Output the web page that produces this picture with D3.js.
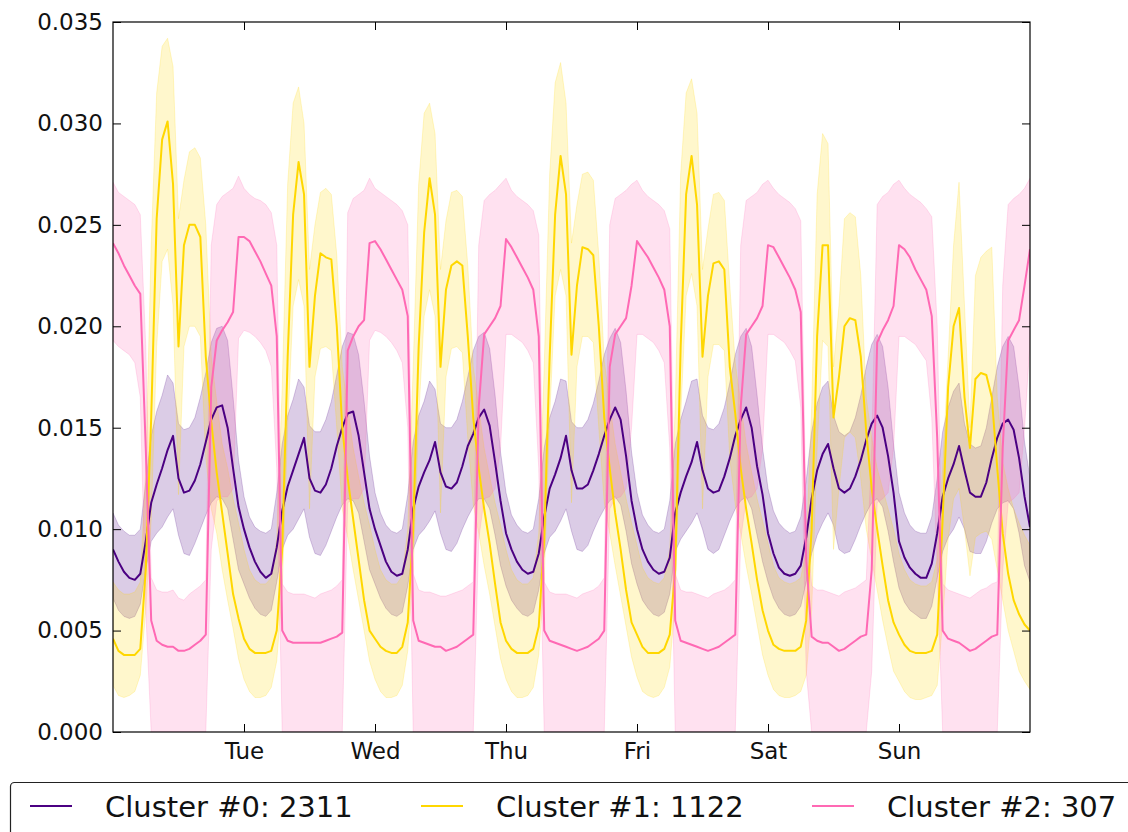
<!DOCTYPE html>
<meta charset="utf-8">
<style>
  body { margin: 0; background: #fff; }
  svg { display: block; font-family: "DejaVu Sans", sans-serif; }
</style>
<div id="chart"></div>

<!-- Load d3.js -->
<script src="https://d3js.org/d3.v7.min.js"></script>
<script>
// hourly profile, Monday 00:00 -> next Monday 00:00 (169 points), values in 1e-3 units
const purpleMean = [
  9.0, 8.4, 7.9, 7.6, 7.5, 7.8, 9.4, 11.3, 12.2, 13.0, 13.9, 14.6, 12.5, 11.8, 11.9, 12.4, 13.2, 14.3, 15.4, 16.0, 16.1, 15.0, 13.0, 11.1,
  10.0, 9.1, 8.4, 7.9, 7.6, 7.8, 9.1, 10.9, 12.1, 12.9, 13.7, 14.5, 12.5, 11.9, 11.8, 12.2, 13.0, 14.1, 15.0, 15.7, 15.8, 14.6, 12.8, 11.0,
  10.0, 9.2, 8.4, 7.9, 7.7, 7.8, 9.0, 11.0, 12.1, 12.8, 13.4, 14.3, 12.8, 12.1, 12.0, 12.3, 13.1, 14.1, 14.7, 15.5, 15.9, 15.1, 13.3, 11.4,
  9.8, 9.0, 8.4, 8.0, 7.8, 7.9, 8.8, 10.6, 12.0, 12.7, 13.5, 14.6, 12.9, 12.0, 12.0, 12.2, 12.9, 13.7, 14.6, 15.4, 16.0, 15.4, 13.6, 11.4,
  10.0, 9.0, 8.4, 8.0, 7.8, 7.9, 8.6, 10.8, 11.8, 12.6, 13.3, 14.3, 12.9, 12.0, 11.8, 11.9, 12.6, 13.5, 14.6, 15.4, 16.0, 15.0, 13.1, 11.7,
  9.8, 8.8, 8.1, 7.8, 7.7, 7.8, 8.2, 9.6, 11.5, 12.9, 13.7, 14.2, 13.0, 12.0, 11.8, 12.0, 12.6, 13.4, 14.4, 15.2, 15.6, 15.0, 13.6, 11.8,
  9.4, 8.6, 8.1, 7.8, 7.6, 7.6, 8.3, 9.8, 11.6, 12.5, 13.2, 14.1, 12.9, 11.8, 11.6, 11.6, 12.3, 13.5, 14.5, 15.2, 15.4, 14.9, 13.5, 11.6,
  10.1];
const purpleHigh = [
  10.8, 10.2, 9.9, 9.7, 9.7, 10.0, 12.3, 14.6, 15.8, 16.6, 17.6, 17.2, 15.2, 14.9, 15.0, 15.5, 16.5, 17.7, 19.2, 19.9, 20.0, 19.3, 16.5, 13.4,
  11.6, 10.6, 10.1, 9.9, 9.8, 10.0, 11.8, 14.2, 15.6, 16.4, 17.4, 17.0, 15.1, 14.8, 14.8, 15.4, 16.3, 17.6, 19.0, 19.7, 19.6, 18.6, 16.3, 13.6,
  11.8, 10.8, 10.2, 9.9, 9.8, 10.0, 11.7, 14.3, 15.6, 16.3, 17.3, 16.9, 15.2, 15.0, 15.0, 15.4, 16.3, 17.5, 18.8, 19.5, 19.7, 18.9, 16.6, 13.8,
  11.8, 10.7, 10.2, 9.9, 9.8, 10.0, 11.5, 14.0, 15.5, 16.3, 17.4, 17.3, 15.3, 15.0, 15.0, 15.4, 16.2, 17.3, 18.6, 19.4, 19.9, 19.2, 16.8, 13.8,
  11.8, 10.7, 10.2, 9.9, 9.8, 10.0, 11.4, 14.2, 15.4, 16.3, 17.3, 17.4, 15.6, 15.0, 14.9, 15.2, 16.0, 17.2, 18.6, 19.5, 19.9, 19.0, 16.6, 14.0,
  12.0, 10.9, 10.3, 10.0, 9.8, 9.9, 10.6, 12.4, 14.8, 16.2, 17.0, 17.3, 15.6, 14.8, 14.6, 14.8, 15.5, 16.6, 18.0, 19.1, 19.6, 19.0, 17.0, 14.2,
  11.8, 10.8, 10.2, 9.9, 9.8, 9.8, 10.6, 12.5, 14.8, 16.0, 16.8, 17.2, 15.2, 14.2, 14.0, 14.1, 15.0, 16.5, 18.0, 19.0, 19.5, 19.0, 17.0, 14.3,
  12.5];
const purpleLow = [
  6.6, 6.0, 5.7, 5.6, 5.7, 6.3, 8.0, 9.4, 9.8, 10.1, 10.6, 11.0, 9.7, 8.8, 8.7, 9.3, 10.0, 10.7, 11.3, 11.6, 11.5, 11.0, 9.5, 8.0,
  7.3, 6.6, 6.1, 5.8, 5.7, 6.0, 7.4, 9.0, 9.7, 10.0, 10.5, 11.0, 9.6, 8.8, 8.7, 9.2, 9.9, 10.6, 11.2, 11.5, 11.4, 10.8, 9.4, 8.0,
  7.3, 6.6, 6.1, 5.8, 5.7, 5.9, 7.2, 9.0, 9.7, 10.0, 10.4, 10.9, 9.8, 9.0, 8.9, 9.3, 10.0, 10.6, 11.1, 11.5, 11.5, 11.0, 9.7, 8.2,
  7.2, 6.5, 6.1, 5.8, 5.7, 5.9, 7.0, 8.8, 9.6, 9.9, 10.4, 11.0, 9.9, 9.0, 8.9, 9.2, 9.9, 10.5, 11.0, 11.4, 11.6, 11.2, 9.9, 8.3,
  7.3, 6.5, 6.1, 5.8, 5.7, 5.9, 6.8, 8.9, 9.5, 9.9, 10.3, 10.8, 10.0, 9.0, 8.8, 9.0, 9.7, 10.4, 11.0, 11.4, 11.6, 11.0, 9.7, 8.4,
  7.4, 6.6, 6.1, 5.8, 5.7, 5.8, 6.2, 7.4, 8.8, 9.7, 10.3, 10.8, 10.2, 9.0, 8.8, 8.9, 9.5, 10.2, 10.8, 11.3, 11.5, 11.1, 9.9, 8.4,
  7.1, 6.4, 6.0, 5.8, 5.6, 5.6, 6.2, 7.6, 8.9, 9.6, 10.0, 10.6, 10.0, 8.9, 8.8, 8.8, 9.4, 10.3, 11.0, 11.3, 11.4, 11.0, 9.8, 8.2,
  7.4];

const yellowMean = [
  4.6, 4.0, 3.8, 3.8, 3.8, 4.1, 8.0, 15.5, 25.3, 29.2, 30.1, 27.0, 19.0, 24.0, 25.0, 25.0, 24.4, 18.5, 15.3, 12.8, 10.8, 8.8, 6.8, 5.6,
  4.6, 4.1, 3.9, 3.9, 3.9, 4.0, 5.0, 9.0, 18.5, 25.5, 28.1, 26.5, 18.0, 21.5, 23.6, 23.4, 23.3, 20.0, 15.0, 12.5, 10.5, 8.5, 6.5, 5.0,
  4.6, 4.2, 4.0, 3.9, 3.9, 4.2, 5.4, 10.0, 19.0, 24.6, 27.3, 25.5, 18.0, 21.8, 23.0, 23.2, 23.0, 19.5, 15.5, 13.0, 11.0, 9.3, 7.3, 5.4,
  4.5, 4.1, 3.9, 3.9, 3.9, 4.1, 5.2, 9.5, 18.5, 25.5, 28.4, 26.5, 18.6, 22.0, 23.9, 23.8, 23.5, 20.0, 15.5, 13.0, 10.8, 9.0, 7.0, 5.4,
  4.8, 4.2, 3.9, 3.9, 3.9, 4.1, 4.8, 8.0, 19.0, 26.5, 28.4, 26.0, 18.5, 21.5, 23.1, 23.2, 22.8, 18.0, 15.7, 13.0, 11.0, 9.3, 7.5, 6.0,
  5.0, 4.3, 4.1, 4.0, 4.0, 4.0, 4.2, 5.5, 10.0, 19.5, 24.0, 24.0, 15.5, 17.5, 20.0, 20.4, 20.3, 18.5, 14.8, 12.0, 10.0, 8.2, 6.5, 5.4,
  4.8, 4.3, 4.0, 3.9, 3.9, 3.9, 4.0, 4.8, 10.5, 17.0, 20.0, 20.9, 16.5, 14.0, 17.4, 17.7, 17.6, 16.5, 13.0, 9.8, 7.8, 6.5, 5.8, 5.3,
  5.0];
const yellowHigh = [
  7.4, 7.0, 6.8, 6.8, 6.9, 7.4, 13.0, 24.0, 31.5, 33.8, 34.2, 32.8, 25.3, 27.2, 28.6, 28.8, 28.3, 25.0, 18.5, 16.3, 14.2, 13.0, 11.5, 10.3,
  9.0, 8.0, 7.5, 7.3, 7.3, 7.6, 9.5, 17.0, 27.0, 31.0, 31.8, 30.0, 22.8, 25.0, 26.6, 26.8, 26.5, 23.5, 18.0, 16.0, 14.0, 12.6, 11.3, 10.2,
  9.0, 8.0, 7.5, 7.3, 7.3, 7.7, 10.0, 18.0, 27.0, 30.5, 31.0, 29.5, 22.8, 25.2, 26.6, 26.7, 26.4, 23.0, 18.0, 16.0, 14.0, 12.6, 11.3, 10.2,
  9.0, 8.0, 7.5, 7.3, 7.3, 7.6, 9.8, 18.0, 27.5, 32.0, 33.0, 31.0, 24.1, 26.0, 27.5, 27.6, 27.2, 23.5, 18.3, 16.2, 14.2, 12.8, 11.5, 10.3,
  9.2, 8.1, 7.6, 7.4, 7.3, 7.6, 9.0, 16.0, 27.5, 31.5, 32.2, 30.5, 22.8, 24.8, 26.5, 26.6, 26.2, 22.0, 18.2, 16.2, 14.2, 12.8, 11.5, 10.4,
  9.3, 8.2, 7.6, 7.4, 7.3, 7.4, 7.6, 9.0, 16.0, 26.5, 29.5, 29.0, 18.0, 21.0, 25.3, 25.6, 25.4, 22.5, 16.5, 14.5, 13.0, 12.0, 11.0, 10.0,
  8.8, 8.0, 7.5, 7.3, 7.2, 7.2, 7.4, 8.5, 13.0, 18.5, 24.0, 27.1, 21.0, 15.0, 22.5, 23.4, 23.7, 23.9, 16.5, 13.3, 12.0, 11.0, 10.3, 9.7,
  9.2];
const yellowLow = [
  2.3, 1.8, 1.7, 1.8, 2.0, 2.8, 6.0, 10.5, 19.0, 23.2, 23.8, 21.0, 11.7, 19.0, 20.0, 20.0, 19.5, 13.5, 11.0, 9.8, 8.0, 6.5, 5.1, 3.6,
  2.6, 2.0, 1.7, 1.7, 1.8, 2.2, 3.5, 7.0, 15.0, 21.0, 22.3, 21.0, 11.0, 17.5, 18.9, 19.0, 18.8, 15.0, 11.0, 9.6, 8.0, 6.5, 5.0, 3.5,
  2.6, 2.0, 1.7, 1.7, 1.8, 2.3, 4.0, 8.0, 15.5, 20.5, 21.8, 20.5, 10.8, 17.5, 18.9, 19.0, 18.7, 14.5, 11.2, 9.8, 8.2, 6.8, 5.2, 3.6,
  2.6, 2.0, 1.7, 1.7, 1.8, 2.2, 3.8, 7.5, 15.5, 21.5, 22.8, 21.5, 11.3, 18.0, 19.5, 19.5, 19.2, 15.0, 11.3, 9.8, 8.2, 6.7, 5.2, 3.7,
  2.7, 2.0, 1.8, 1.7, 1.8, 2.2, 3.2, 6.5, 15.5, 21.5, 22.6, 21.0, 11.0, 17.5, 19.1, 19.1, 18.8, 13.5, 11.2, 9.8, 8.2, 6.8, 5.3, 3.8,
  2.8, 2.1, 1.8, 1.7, 1.7, 1.8, 2.0, 2.8, 6.0, 14.0, 19.3, 19.0, 9.0, 12.0, 14.5, 14.8, 14.5, 12.5, 10.0, 8.5, 7.0, 5.5, 4.2, 3.0,
  2.5, 2.0, 1.7, 1.6, 1.6, 1.7, 1.8, 2.3, 5.5, 9.5, 11.5, 12.0, 10.0, 7.7, 9.6, 9.8, 9.9, 9.5, 8.0, 6.5, 5.0, 4.0, 3.0, 2.5,
  2.1];

const pinkMean = [
  24.1, 23.6, 23.0, 22.5, 22.0, 21.6, 14.0, 5.5, 4.5, 4.3, 4.2, 4.2, 4.0, 4.0, 4.1, 4.3, 4.5, 4.8, 17.0, 19.3, 19.8, 20.2, 20.7, 24.4,
  24.4, 24.2, 23.7, 23.2, 22.6, 22.0, 19.5, 5.0, 4.5, 4.4, 4.4, 4.4, 4.4, 4.4, 4.4, 4.5, 4.6, 4.7, 4.9, 18.8, 19.5, 20.0, 20.3, 24.1,
  24.2, 23.8, 23.3, 22.8, 22.3, 21.8, 20.5, 5.5, 4.5, 4.4, 4.3, 4.2, 4.2, 4.0, 4.1, 4.2, 4.4, 4.6, 4.8, 16.0, 19.6, 20.0, 20.4, 21.0,
  24.3, 23.9, 23.4, 22.9, 22.4, 21.8, 19.5, 5.0, 4.5, 4.4, 4.3, 4.2, 4.1, 4.0, 4.1, 4.2, 4.4, 4.6, 5.0, 18.0, 19.6, 20.0, 20.4, 22.0,
  24.2, 23.8, 23.4, 22.9, 22.4, 21.8, 20.0, 5.5, 4.5, 4.4, 4.3, 4.2, 4.1, 4.0, 4.1, 4.2, 4.4, 4.6, 4.8, 16.0, 19.6, 20.0, 20.4, 21.0,
  24.0, 23.9, 23.4, 22.9, 22.4, 21.8, 20.7, 8.5, 4.7, 4.5, 4.4, 4.4, 4.2, 4.0, 4.1, 4.3, 4.5, 4.7, 4.8, 8.0, 19.2, 19.8, 20.3, 21.0,
  24.0, 23.8, 23.4, 22.8, 22.3, 21.8, 20.5, 14.5, 5.0, 4.6, 4.5, 4.4, 4.2, 4.0, 4.1, 4.3, 4.5, 4.7, 4.8, 14.0, 19.3, 19.8, 20.3, 22.0,
  23.8];
const pinkHigh = [
  27.1, 26.6, 26.4, 26.2, 26.0, 25.5, 19.0, 7.6, 7.0, 6.9, 6.9, 7.0, 6.6, 6.5, 6.8, 7.0, 7.2, 7.5, 24.0, 26.0, 26.4, 26.6, 26.8, 27.4,
  26.8, 26.5, 26.3, 26.2, 26.0, 25.6, 24.0, 7.3, 6.9, 6.8, 6.8, 6.8, 6.7, 6.6, 6.8, 6.9, 7.0, 7.2, 7.5, 25.6, 26.3, 26.5, 26.7, 27.3,
  26.8, 26.6, 26.4, 26.2, 26.0, 25.7, 25.0, 7.8, 7.0, 6.9, 6.9, 6.8, 6.7, 6.7, 6.8, 6.9, 7.0, 7.2, 7.4, 24.0, 26.2, 26.5, 26.7, 27.0,
  27.3, 26.7, 26.4, 26.2, 26.0, 25.7, 24.5, 7.4, 6.9, 6.8, 6.8, 6.8, 6.7, 6.6, 6.8, 6.9, 7.0, 7.2, 7.6, 25.0, 26.3, 26.5, 26.7, 27.0,
  27.2, 26.7, 26.4, 26.2, 26.0, 25.7, 24.8, 7.8, 7.0, 6.9, 6.9, 6.8, 6.7, 6.6, 6.8, 6.9, 7.0, 7.2, 7.5, 24.0, 26.2, 26.4, 26.6, 27.0,
  27.2, 26.8, 26.5, 26.3, 26.1, 25.8, 25.2, 10.5, 7.2, 7.0, 7.0, 6.9, 6.8, 6.7, 6.9, 7.0, 7.1, 7.3, 7.5, 14.0, 26.0, 26.4, 26.6, 27.0,
  27.2, 26.8, 26.5, 26.3, 26.1, 25.8, 25.4, 20.0, 7.3, 7.0, 6.9, 6.8, 6.7, 6.6, 6.8, 7.0, 7.1, 7.3, 7.4, 22.0, 26.0, 26.3, 26.5, 26.8,
  27.3];
const pinkLow = [
  19.3, 19.0, 18.8, 18.6, 18.2, 16.5, 6.0, 0, 0, 0, 0, 0, 0, 0, 0, 0, 0, 0, 9.0, 11.4, 11.6, 11.6, 12.0, 19.4,
  19.8, 19.7, 19.5, 19.2, 18.8, 18.0, 13.0, 0, 0, 0, 0, 0, 0, 0, 0, 0, 0, 0, 0, 11.3, 11.5, 11.5, 12.0, 19.3,
  19.8, 19.7, 19.5, 19.2, 18.8, 18.2, 15.0, 0, 0, 0, 0, 0, 0, 0, 0, 0, 0, 0, 0, 9.5, 11.5, 11.6, 12.0, 14.0,
  19.6, 19.6, 19.4, 19.2, 18.8, 18.2, 13.0, 0, 0, 0, 0, 0, 0, 0, 0, 0, 0, 0, 0, 11.0, 11.5, 11.6, 12.0, 15.0,
  19.6, 19.6, 19.4, 19.2, 18.8, 18.2, 14.0, 0, 0, 0, 0, 0, 0, 0, 0, 0, 0, 0, 0, 9.5, 11.5, 11.6, 12.0, 14.0,
  19.6, 19.6, 19.4, 19.2, 18.8, 18.3, 16.0, 3.0, 0, 0, 0, 0, 0, 0, 0, 0, 0, 0, 0, 3.0, 11.3, 11.5, 11.8, 14.0,
  19.5, 19.5, 19.3, 19.1, 18.7, 18.3, 15.5, 8.0, 0, 0, 0, 0, 0, 0, 0, 0, 0, 0, 0, 8.0, 11.3, 11.5, 11.8, 15.0,
  19.2];

const clusterNames = ["Cluster #0: 2311", "Cluster #1: 1122", "Cluster #2: 307"];
const clusterColors = ["#4b0082", "#ffd700", "#ff69b4"];
const dayTicks = [24, 48, 72, 96, 120, 144];
const dayLabels = ["Tue", "Wed", "Thu", "Fri", "Sat", "Sun"];
const yTicks = [0, 0.005, 0.010, 0.015, 0.020, 0.025, 0.030, 0.035];
const unit = 1e-3;

clusters = [
  {mean: purpleMean, lo: purpleLow, hi: purpleHigh},
  {mean: yellowMean, lo: yellowLow, hi: yellowHigh},
  {mean: pinkMean, lo: pinkLow, hi: pinkHigh}
].map((c, i) => ({...c, name: clusterNames[i], color: clusterColors[i]}));

width = 1128;
height = 832;
margin = ({top: 22, right: 98, bottom: 100, left: 113});

x = d3.scaleLinear()
    .domain([0, purpleMean.length - 1])
    .range([margin.left, width - margin.right]);

y = d3.scaleLinear()
    .domain([0, 0.035])
    .range([height - margin.bottom, margin.top]);

svg = d3.select("#chart")
  .append("svg")
    .attr("width", width)
    .attr("height", height);

svg.append("clipPath")
    .attr("id", "plot-clip")
  .append("rect")
    .attr("x", margin.left)
    .attr("y", margin.top)
    .attr("width", width - margin.left - margin.right)
    .attr("height", height - margin.top - margin.bottom);

plot = svg.append("g").attr("clip-path", "url(#plot-clip)");

band = c => d3.area()
    .x((d, i) => x(i))
    .y0((d, i) => y(c.lo[i] * unit))
    .y1((d, i) => y(c.hi[i] * unit));

meanLine = d3.line()
    .x((d, i) => x(i))
    .y(d => y(d * unit));

// shaded spread first, mean lines on top
plot.selectAll(".band")
  .data(clusters)
  .join("path")
    .attr("class", "band")
    .attr("d", c => band(c)(c.mean))
    .attr("fill", c => c.color)
    .attr("fill-opacity", 0.2)
    .attr("stroke", c => c.color)
    .attr("stroke-opacity", 0.2)
    .attr("stroke-width", 1);

plot.selectAll(".mean")
  .data(clusters)
  .join("path")
    .attr("class", "mean")
    .attr("d", c => meanLine(c.mean))
    .attr("fill", "none")
    .attr("stroke", c => c.color)
    .attr("stroke-width", 2)
    .attr("stroke-linejoin", "round");

// axes: ticks point inward on all four sides
styleAxis = g => {
  g.attr("font-family", "DejaVu Sans").attr("font-size", 23);
  g.select(".domain").remove();
  g.selectAll(".tick line").attr("stroke", "#000");
  g.selectAll(".tick text").attr("fill", "#111");
};

svg.append("g")
    .attr("transform", `translate(${margin.left},0)`)
    .call(d3.axisLeft(y).tickValues(yTicks).tickFormat(d3.format(".3f")).tickSize(-8).tickPadding(10))
    .call(styleAxis);

svg.append("g")
    .attr("transform", `translate(${width - margin.right},0)`)
    .call(d3.axisRight(y).tickValues(yTicks).tickFormat("").tickSize(-8))
    .call(styleAxis);

svg.append("g")
    .attr("transform", `translate(0,${height - margin.bottom})`)
    .call(d3.axisBottom(x).tickValues(dayTicks).tickFormat((d, i) => dayLabels[i]).tickSize(-8).tickPadding(11))
    .call(styleAxis);

svg.append("g")
    .attr("transform", `translate(0,${margin.top})`)
    .call(d3.axisTop(x).tickValues(dayTicks).tickFormat("").tickSize(-8))
    .call(styleAxis);

svg.append("rect")
    .attr("x", margin.left)
    .attr("y", margin.top)
    .attr("width", width - margin.left - margin.right)
    .attr("height", height - margin.top - margin.bottom)
    .attr("fill", "none")
    .attr("stroke", "#000")
    .attr("stroke-width", 1.2);

// legend, running off the bottom right of the canvas
legend = svg.append("g");

legend.append("rect")
    .attr("x", 10.5)
    .attr("y", 782.5)
    .attr("width", 1200)
    .attr("height", 100)
    .attr("rx", 4)
    .attr("fill", "#fff")
    .attr("stroke", "#222")
    .attr("stroke-width", 1.2);

entry = legend.selectAll(".entry")
  .data(clusters)
  .join("g")
    .attr("class", "entry")
    .attr("transform", (c, i) => `translate(${30 + i * 391},806)`);

entry.append("line")
    .attr("x1", 0)
    .attr("x2", 42)
    .attr("stroke", c => c.color)
    .attr("stroke-width", 2);

entry.append("text")
    .attr("x", 75)
    .attr("y", 10.5)
    .attr("fill", "#111")
    .style("font-size", "29px")
    .text(c => c.name);
</script>
